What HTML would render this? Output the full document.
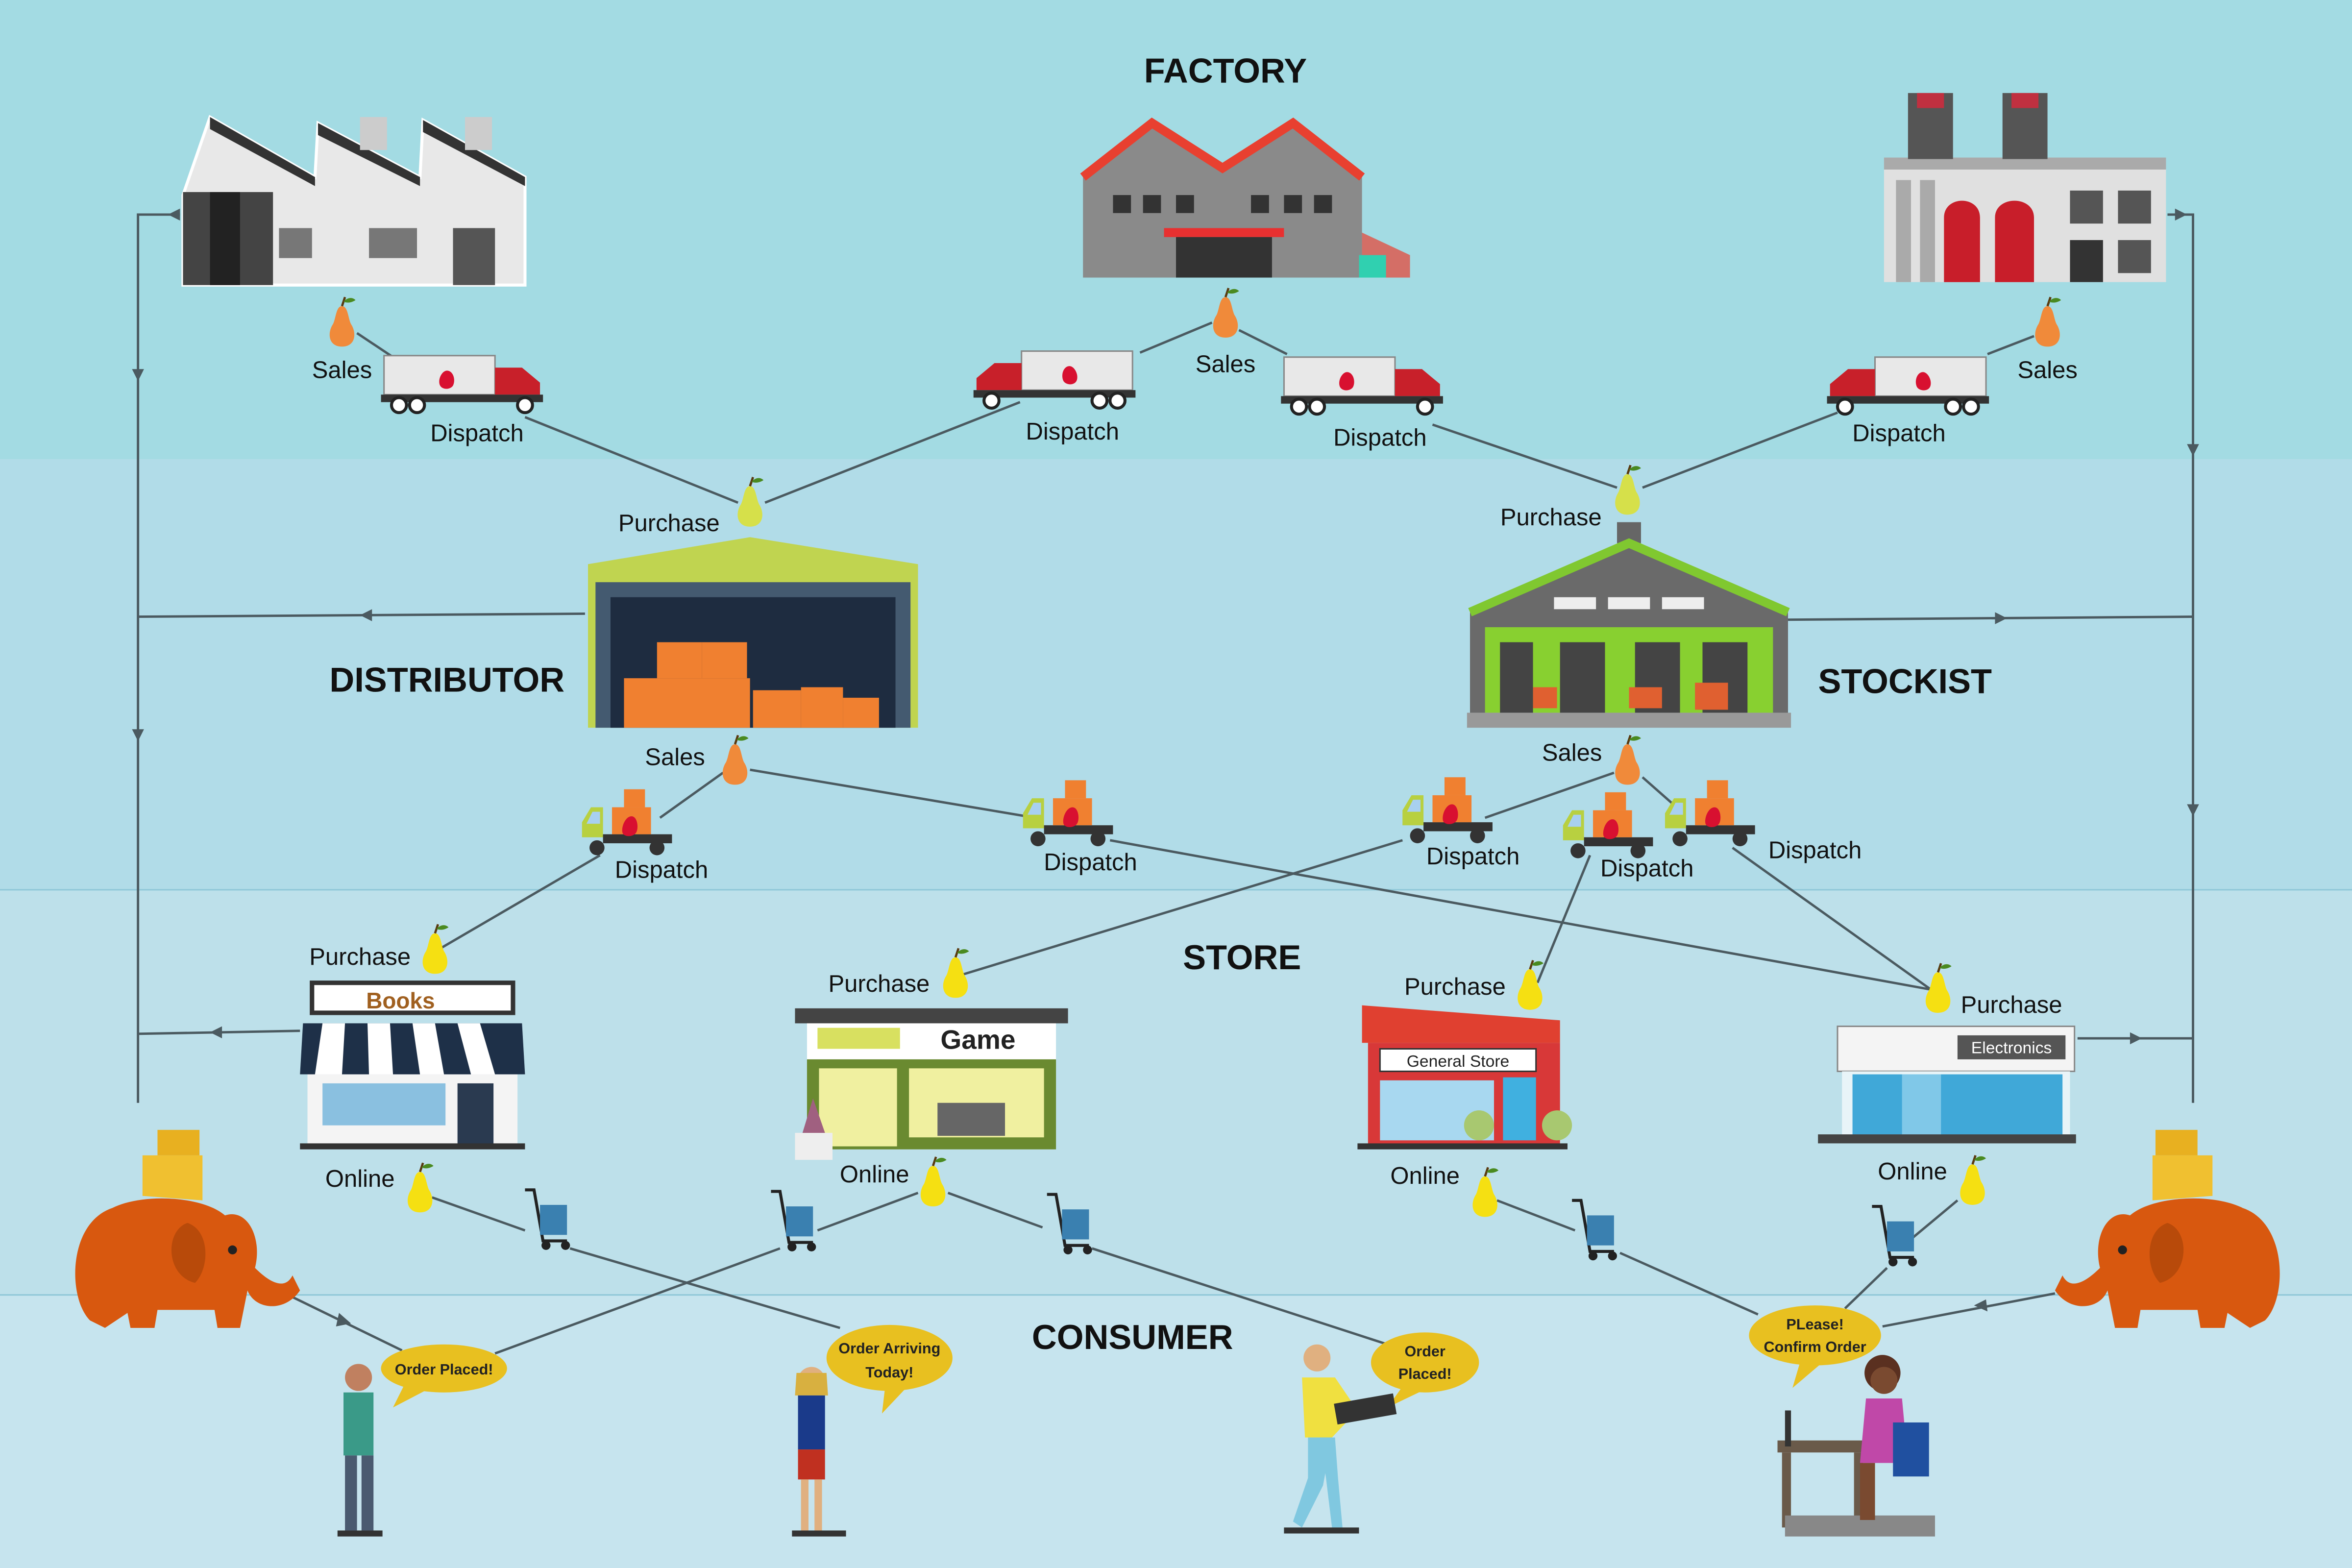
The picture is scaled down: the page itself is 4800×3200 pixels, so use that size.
<!DOCTYPE html>
<html><head><meta charset="utf-8"><style>
html,body{margin:0;padding:0;width:4800px;height:3200px;overflow:hidden}
svg{display:block}
.t{font-family:"Liberation Sans",sans-serif;font-weight:bold;font-size:23px;fill:#111;text-anchor:middle}
.l{font-family:"Liberation Sans",sans-serif;font-size:16px;fill:#111;text-anchor:middle}
.c{stroke:#4b5a60;stroke-width:1.6;fill:none}
.b{font-family:"Liberation Sans",sans-serif;font-size:10px;fill:#222;text-anchor:middle;font-weight:bold}
</style></head><body>
<svg width="4800" height="3200" viewBox="0 0 1568 1045" preserveAspectRatio="none" xmlns="http://www.w3.org/2000/svg">
<defs>
<g id="pear"><path d="M0,-14 C4,-14 4,-6 6,-2 C10,4 9,13 0,13 C-9,13 -10,4 -6,-2 C-4,-6 -4,-14 0,-14Z"/><path d="M0,-14 L2,-20" stroke="#5a3a10" stroke-width="1.5"/><path d="M1,-17 C5,-21 8,-19 9,-18 C6,-16 3,-16 1,-17Z" fill="#4a8a20"/></g>
<g id="truckR"><rect x="-52" y="-18" width="74" height="26" fill="#e8e8e8" stroke="#888" stroke-width="1"/><path d="M22,-10 L40,-10 L52,0 L52,8 L22,8Z" fill="#c8202a"/><rect x="-54" y="8" width="108" height="5" fill="#333"/><circle cx="-42" cy="15" r="5" fill="#fff" stroke="#222" stroke-width="2"/><circle cx="-30" cy="15" r="5" fill="#fff" stroke="#222" stroke-width="2"/><circle cx="42" cy="15" r="5" fill="#fff" stroke="#222" stroke-width="2"/><path d="M-10,-8 C-6,-8 -4,-2 -6,2 C-8,5 -14,5 -15,1 C-16,-3 -13,-8 -10,-8Z" fill="#d81030"/></g>
<g id="truckL"><use href="#truckR" transform="scale(-1,1)"/></g>
<g id="mini"><path d="M-30,0 L-30,-10 L-24,-20 L-16,-20 L-16,0Z" fill="#b8d040"/><path d="M-27,-9 L-23,-17 L-18,-17 L-18,-9Z" fill="#a8d0f0"/><rect x="-16" y="-2" width="46" height="6" fill="#333"/><rect x="-10" y="-20" width="26" height="18" fill="#f08030"/><rect x="-2" y="-32" width="14" height="12" fill="#f08030"/><circle cx="-20" cy="7" r="5" fill="#333"/><circle cx="20" cy="7" r="5" fill="#333"/><path d="M3,-14 C7,-14 8,-6 6,-3 C4,0 -2,0 -3,-3 C-4,-7 -1,-14 3,-14Z" fill="#d81030"/></g>
<g id="cart"><path d="M-14,-22 L-8,-22 L-2,12 L14,12" stroke="#222" stroke-width="2" fill="none"/><rect x="-4" y="-12" width="18" height="20" fill="#3a80b0"/><circle cx="0" cy="15" r="3" fill="#222"/><circle cx="13" cy="15" r="3" fill="#222"/></g>
<g id="ele"><path d="M-55,35 C-70,20 -70,-30 -40,-40 C-20,-50 20,-48 35,-35 C50,-40 60,-20 55,0 C65,10 75,15 80,5 L85,15 C75,30 55,28 50,15 L45,40 L30,40 L28,28 L-10,28 L-12,40 L-28,40 L-30,30 L-45,40 Z" fill="#d8580f"/><path d="M10,-30 C-5,-25 -5,5 15,10 C25,0 25,-25 10,-30Z" fill="#b84a0a"/><circle cx="40" cy="-12" r="3" fill="#222"/><path d="M-20,-48 L-20,-75 L20,-75 L20,-45Z" fill="#f0c030"/><path d="M-10,-75 L-10,-92 L18,-92 L18,-75Z" fill="#e8b020"/></g>
</defs>
<rect width="1568" height="306" fill="#a3dbe3"/>
<rect y="306" width="1568" height="287" fill="#b1dce8"/>
<rect y="593" width="1568" height="270" fill="#bde0ea"/>
<line x1="0" y1="593" x2="1568" y2="593" stroke="#90c8d8" stroke-width="1"/>
<rect y="863" width="1568" height="182" fill="#c6e4ee"/>
<line x1="0" y1="863" x2="1568" y2="863" stroke="#90c8d8" stroke-width="1"/>

<!-- connectors -->
<g class="c">
<path d="M120,143 L92,143 L92,735"/><path d="M390,409 L92,411"/><path d="M200,687 L92,689"/>
<path d="M1445,143 L1462,143 L1462,735"/><path d="M1192,413 L1462,411"/><path d="M1385,692 L1462,692"/>
<path d="M238,222 L262,238"/><path d="M350,278 L492,335"/>
<path d="M808,215 L760,235"/><path d="M680,268 L510,335"/>
<path d="M826,220 L858,236"/><path d="M955,283 L1078,325"/>
<path d="M1356,224 L1325,236"/><path d="M1225,275 L1095,325"/>
<path d="M482,515 L440,545"/><path d="M400,570 L292,633"/>
<path d="M500,513 L690,545"/><path d="M740,560 L1290,660"/>
<path d="M1076,515 L990,545"/><path d="M935,560 L640,650"/>
<path d="M1060,570 L1025,655"/><path d="M1095,518 L1120,540"/><path d="M1155,565 L1288,660"/>
<path d="M288,798 L350,820"/><path d="M380,832 L560,885"/>
<path d="M612,795 L545,820"/><path d="M520,832 L330,902"/>
<path d="M632,795 L695,818"/><path d="M728,832 L925,896"/>
<path d="M998,800 L1050,820"/><path d="M1080,835 L1172,876"/>
<path d="M1305,800 L1275,825"/><path d="M1258,845 L1230,872"/>
<path d="M190,862 L268,900"/><path d="M1370,862 L1255,884"/>
</g>
<g fill="#4b5a60">
<path d="M112,139 L120,143 L112,147Z" transform="rotate(180,116,143)"/>
<path d="M88,246 L96,246 L92,254Z"/><path d="M88,486 L96,486 L92,494Z"/>
<path d="M248,406 L248,414 L240,410Z"/><path d="M148,684 L148,692 L140,688Z"/>
<path d="M1450,139 L1458,143 L1450,147Z"/>
<path d="M1458,296 L1466,296 L1462,304Z"/><path d="M1458,536 L1466,536 L1462,544Z"/>
<path d="M1330,408 L1338,412 L1330,416Z"/><path d="M1420,688 L1428,692 L1420,696Z"/>
<path d="M226,875 L234,882 L224,884Z"/><path d="M1324,866 L1316,870 L1325,874Z"/>
</g>

<!-- titles -->
<text class="t" x="817" y="55">FACTORY</text>
<text class="t" x="298" y="461">DISTRIBUTOR</text>
<text class="t" x="1270" y="462">STOCKIST</text>
<text class="t" x="828" y="646">STORE</text>
<text class="t" x="755" y="899">CONSUMER</text>

<!-- factories -->
<g>
<path d="M122,130 L140,78 L210,118 L212,82 L280,118 L282,80 L350,118 L350,190 L122,190Z" fill="#e8e8e8" stroke="#fff" stroke-width="2"/>
<path d="M140,78 L210,118 L210,124 L140,86Z M212,82 L280,118 L280,124 L212,90Z M282,80 L350,118 L350,124 L282,88Z" fill="#333"/>
<rect x="122" y="128" width="60" height="62" fill="#444"/><rect x="140" y="128" width="20" height="62" fill="#222"/>
<rect x="186" y="152" width="22" height="20" fill="#777"/><rect x="246" y="152" width="32" height="20" fill="#777"/><rect x="302" y="152" width="28" height="38" fill="#555"/>
<rect x="240" y="78" width="18" height="22" fill="#ccc"/><rect x="310" y="78" width="18" height="22" fill="#ccc"/>
</g>
<g>
<path d="M722,118 L768,82 L815,112 L862,82 L908,118 L908,185 L722,185Z" fill="#8a8a8a"/>
<path d="M722,118 L768,82 L815,112 L862,82 L908,118" stroke="#e84030" stroke-width="6" fill="none"/>
<rect x="742" y="130" width="12" height="12" fill="#333"/><rect x="762" y="130" width="12" height="12" fill="#333"/><rect x="784" y="130" width="12" height="12" fill="#333"/><rect x="834" y="130" width="12" height="12" fill="#333"/><rect x="856" y="130" width="12" height="12" fill="#333"/><rect x="876" y="130" width="12" height="12" fill="#333"/>
<rect x="776" y="152" width="80" height="6" fill="#e83030"/><rect x="784" y="158" width="64" height="27" fill="#333"/>
<path d="M908,155 L940,170 L940,185 L908,185Z" fill="#e84030" opacity="0.7"/><rect x="906" y="170" width="18" height="15" fill="#30d0b0"/>
</g>
<g>
<rect x="1256" y="105" width="188" height="83" fill="#e0e0e0"/><rect x="1256" y="105" width="188" height="8" fill="#aaa"/>
<rect x="1272" y="62" width="30" height="44" fill="#555"/><rect x="1278" y="62" width="18" height="10" fill="#c03040"/>
<rect x="1335" y="62" width="30" height="44" fill="#555"/><rect x="1341" y="62" width="18" height="10" fill="#c03040"/>
<path d="M1296,188 L1296,145 C1296,130 1320,130 1320,145 L1320,188Z M1330,188 L1330,145 C1330,130 1356,130 1356,145 L1356,188Z" fill="#c81e2a"/>
<rect x="1264" y="120" width="10" height="68" fill="#aaa"/><rect x="1280" y="120" width="10" height="68" fill="#aaa"/>
<rect x="1380" y="127" width="22" height="22" fill="#555"/><rect x="1412" y="127" width="22" height="22" fill="#555"/><rect x="1412" y="160" width="22" height="22" fill="#555"/><rect x="1380" y="160" width="22" height="28" fill="#333"/>
</g>

<!-- trucks -->
<use href="#truckR" x="308" y="255"/>
<use href="#truckL" x="703" y="252"/>
<use href="#truckR" x="908" y="256"/>
<use href="#truckL" x="1272" y="256"/>
<text class="l" x="228" y="252">Sales</text><text class="l" x="318" y="294">Dispatch</text>
<text class="l" x="817" y="248">Sales</text><text class="l" x="715" y="293">Dispatch</text>
<text class="l" x="920" y="297">Dispatch</text><text class="l" x="1365" y="252">Sales</text><text class="l" x="1266" y="294">Dispatch</text>
<use href="#pear" x="228" y="218" fill="#f08a3a"/>
<use href="#pear" x="817" y="212" fill="#f08a3a"/>
<use href="#pear" x="1365" y="218" fill="#f08a3a"/>
<use href="#pear" x="500" y="338" fill="#d6e04a"/>
<use href="#pear" x="1085" y="330" fill="#d6e04a"/>
<text class="l" x="446" y="354">Purchase</text><text class="l" x="1034" y="350">Purchase</text>

<!-- distributor -->
<g>
<path d="M392,376 L500,358 L612,376 L612,485 L392,485Z" fill="#c0d450"/>
<rect x="397" y="388" width="210" height="97" fill="#445a70"/><rect x="407" y="398" width="190" height="87" fill="#1e2c40"/>
<rect x="438" y="428" width="30" height="24" fill="#f08030"/><rect x="468" y="428" width="30" height="24" fill="#f08030"/>
<rect x="416" y="452" width="84" height="33" fill="#f08030"/><rect x="502" y="460" width="32" height="25" fill="#f08030"/><rect x="534" y="458" width="28" height="27" fill="#f08030"/><rect x="562" y="465" width="24" height="20" fill="#f08030"/>
</g>
<!-- stockist -->
<g>
<rect x="1078" y="348" width="16" height="14" fill="#666"/>
<path d="M980,408 L1086,362 L1192,408 L1192,475 L980,475Z" fill="#6a6a6a"/>
<path d="M980,408 L1086,362 L1192,408" stroke="#80c830" stroke-width="6" fill="none"/>
<rect x="1036" y="398" width="28" height="8" fill="#eee"/><rect x="1072" y="398" width="28" height="8" fill="#eee"/><rect x="1108" y="398" width="28" height="8" fill="#eee"/>
<rect x="990" y="418" width="192" height="57" fill="#88d030"/>
<rect x="1000" y="428" width="22" height="47" fill="#444"/><rect x="1040" y="428" width="30" height="47" fill="#444"/><rect x="1090" y="428" width="30" height="47" fill="#444"/><rect x="1135" y="428" width="30" height="47" fill="#444"/>
<rect x="1086" y="458" width="22" height="14" fill="#e06030"/><rect x="1130" y="455" width="22" height="18" fill="#e06030"/><rect x="1022" y="458" width="16" height="14" fill="#e06030"/>
<rect x="978" y="475" width="216" height="10" fill="#999"/>
</g>
<text class="l" x="450" y="510">Sales</text><text class="l" x="1048" y="507">Sales</text>
<use href="#pear" x="490" y="510" fill="#f08a3a"/>
<use href="#pear" x="1085" y="510" fill="#f08a3a"/>
<use href="#mini" x="418" y="558"/>
<use href="#mini" x="712" y="552"/>
<use href="#mini" x="965" y="550"/>
<use href="#mini" x="1072" y="560"/>
<use href="#mini" x="1140" y="552"/>
<text class="l" x="441" y="585">Dispatch</text><text class="l" x="727" y="580">Dispatch</text>
<text class="l" x="982" y="576">Dispatch</text><text class="l" x="1098" y="584">Dispatch</text><text class="l" x="1210" y="572">Dispatch</text>

<!-- stores -->
<g>
<rect x="208" y="655" width="134" height="20" fill="#fff" stroke="#333" stroke-width="3"/><text x="267" y="672" font-family="Liberation Sans,sans-serif" font-size="15" font-weight="bold" fill="#a06020" text-anchor="middle">Books</text>
<path d="M202,682 L348,682 L350,716 L200,716Z" fill="#1e3048"/>
<path d="M215,682 L230,682 L228,716 L210,716Z M245,682 L260,682 L262,716 L246,716Z M275,682 L290,682 L296,716 L280,716Z M305,682 L320,682 L330,716 L314,716Z" fill="#fff"/>
<rect x="205" y="716" width="140" height="48" fill="#f4f4f4"/><rect x="215" y="722" width="82" height="28" fill="#8ac0e0"/><rect x="305" y="722" width="24" height="42" fill="#2a3a50"/>
<rect x="200" y="762" width="150" height="4" fill="#333"/>
</g>
<g>
<rect x="530" y="672" width="182" height="10" fill="#444"/>
<rect x="538" y="682" width="166" height="24" fill="#fff"/><rect x="545" y="685" width="55" height="14" fill="#d8e060"/><text x="652" y="699" font-family="Liberation Sans,sans-serif" font-size="18" font-weight="bold" fill="#222" text-anchor="middle">Game</text>
<rect x="538" y="706" width="166" height="60" fill="#6a8a30"/><rect x="546" y="712" width="52" height="52" fill="#f0f0a0"/><rect x="606" y="712" width="90" height="46" fill="#f0f0a0"/><rect x="625" y="735" width="45" height="22" fill="#666"/>
<rect x="530" y="755" width="25" height="18" fill="#eee"/><path d="M535,755 L542,732 L550,755Z" fill="#a06080"/>
</g>
<g>
<path d="M908,670 L1040,680 L1040,695 L908,695Z" fill="#e04030"/>
<rect x="912" y="695" width="128" height="70" fill="#d83838"/>
<rect x="920" y="699" width="104" height="15" fill="#fff" stroke="#333"/><text x="972" y="711" font-family="Liberation Sans,sans-serif" font-size="11" fill="#222" text-anchor="middle">General Store</text>
<rect x="920" y="720" width="76" height="40" fill="#a8d8f0"/><rect x="1002" y="718" width="22" height="42" fill="#40b0e0"/>
<circle cx="986" cy="750" r="10" fill="#a8c870"/><circle cx="1038" cy="750" r="10" fill="#a8c870"/>
<rect x="905" y="762" width="140" height="4" fill="#333"/>
</g>
<g>
<rect x="1225" y="684" width="158" height="30" fill="#f4f4f4" stroke="#888"/><rect x="1305" y="690" width="72" height="16" fill="#555"/><text x="1341" y="702" font-family="Liberation Sans,sans-serif" font-size="11" fill="#fff" text-anchor="middle">Electronics</text>
<rect x="1228" y="714" width="152" height="44" fill="#e8f4f8"/><rect x="1235" y="716" width="140" height="40" fill="#40a8d8"/><rect x="1268" y="716" width="26" height="40" fill="#80c8e8"/>
<rect x="1212" y="756" width="172" height="6" fill="#444"/>
</g>
<use href="#pear" x="290" y="636" fill="#f5e012"/><text class="l" x="240" y="643">Purchase</text>
<use href="#pear" x="637" y="652" fill="#f5e012"/><text class="l" x="586" y="661">Purchase</text>
<use href="#pear" x="1020" y="660" fill="#f5e012"/><text class="l" x="970" y="663">Purchase</text>
<use href="#pear" x="1292" y="662" fill="#f5e012"/><text class="l" x="1341" y="675">Purchase</text>
<use href="#pear" x="280" y="795" fill="#f5e012"/><text class="l" x="240" y="791">Online</text>
<use href="#pear" x="622" y="791" fill="#f5e012"/><text class="l" x="583" y="788">Online</text>
<use href="#pear" x="990" y="798" fill="#f5e012"/><text class="l" x="950" y="789">Online</text>
<use href="#pear" x="1315" y="790" fill="#f5e012"/><text class="l" x="1275" y="786">Online</text>

<use href="#cart" x="364" y="815"/><use href="#cart" x="528" y="816"/><use href="#cart" x="712" y="818"/><use href="#cart" x="1062" y="822"/><use href="#cart" x="1262" y="826"/>

<use href="#ele" x="115" y="845"/>
<g transform="translate(1455,845) scale(-1,1)"><use href="#ele"/></g>

<!-- bubbles -->
<ellipse cx="296" cy="912" rx="42" ry="16" fill="#e8c020"/><path d="M270,922 L262,938 L285,926Z" fill="#e8c020"/><text class="b" x="296" y="916">Order Placed!</text>
<ellipse cx="593" cy="905" rx="42" ry="22" fill="#e8c020"/><path d="M590,925 L588,942 L605,924Z" fill="#e8c020"/><text class="b" x="593" y="902">Order Arriving</text><text class="b" x="593" y="918">Today!</text>
<ellipse cx="950" cy="908" rx="36" ry="20" fill="#e8c020"/><path d="M935,924 L925,938 L950,926Z" fill="#e8c020"/><text class="b" x="950" y="904">Order</text><text class="b" x="950" y="919">Placed!</text>
<ellipse cx="1210" cy="890" rx="44" ry="20" fill="#e8c020"/><path d="M1200,908 L1195,925 L1215,908Z" fill="#e8c020"/><text class="b" x="1210" y="886">PLease!</text><text class="b" x="1210" y="901">Confirm Order</text>

<!-- people -->
<g><circle cx="239" cy="918" r="9" fill="#c08060"/><rect x="229" y="928" width="20" height="42" fill="#3a9a88"/><rect x="230" y="970" width="8" height="50" fill="#4a5a70"/><rect x="241" y="970" width="8" height="50" fill="#4a5a70"/><rect x="225" y="1020" width="30" height="4" fill="#333"/></g>
<g><circle cx="541" cy="920" r="9" fill="#e0b080"/><path d="M531,915 L551,915 L552,930 L530,930Z" fill="#d8b040"/><rect x="532" y="930" width="18" height="36" fill="#1a3a8a"/><rect x="532" y="966" width="18" height="20" fill="#c03020"/><rect x="534" y="986" width="5" height="34" fill="#e0b080"/><rect x="543" y="986" width="5" height="34" fill="#e0b080"/><rect x="528" y="1020" width="36" height="4" fill="#333"/></g>
<g><circle cx="878" cy="905" r="9" fill="#e0b080"/><path d="M868,918 L890,918 L905,940 L888,958 L870,958Z" fill="#f0e040"/><path d="M872,958 L888,958 L882,990 L868,1018 L862,1014 L872,985Z" fill="#80c8e0"/><path d="M880,958 L890,958 L892,985 L895,1018 L888,1018 L884,985Z" fill="#80c8e0"/><rect x="890" y="932" width="40" height="14" fill="#333" transform="rotate(-10,910,938)"/><rect x="856" y="1018" width="50" height="4" fill="#333"/></g>
<g><rect x="1185" y="960" width="60" height="8" fill="#6a5a4a"/><rect x="1188" y="968" width="6" height="50" fill="#6a5a4a"/><rect x="1236" y="968" width="6" height="50" fill="#6a5a4a"/><rect x="1190" y="940" width="4" height="24" fill="#333"/><circle cx="1255" cy="915" r="12" fill="#5a3020"/><circle cx="1256" cy="920" r="9" fill="#7a4a30"/><path d="M1244,932 L1268,932 L1272,975 L1240,975Z" fill="#c048a8"/><rect x="1262" y="948" width="24" height="36" fill="#2050a0"/><rect x="1190" y="1010" width="100" height="14" fill="#888"/><rect x="1240" y="975" width="10" height="38" fill="#7a4a30"/></g>
</svg>
</body></html>
